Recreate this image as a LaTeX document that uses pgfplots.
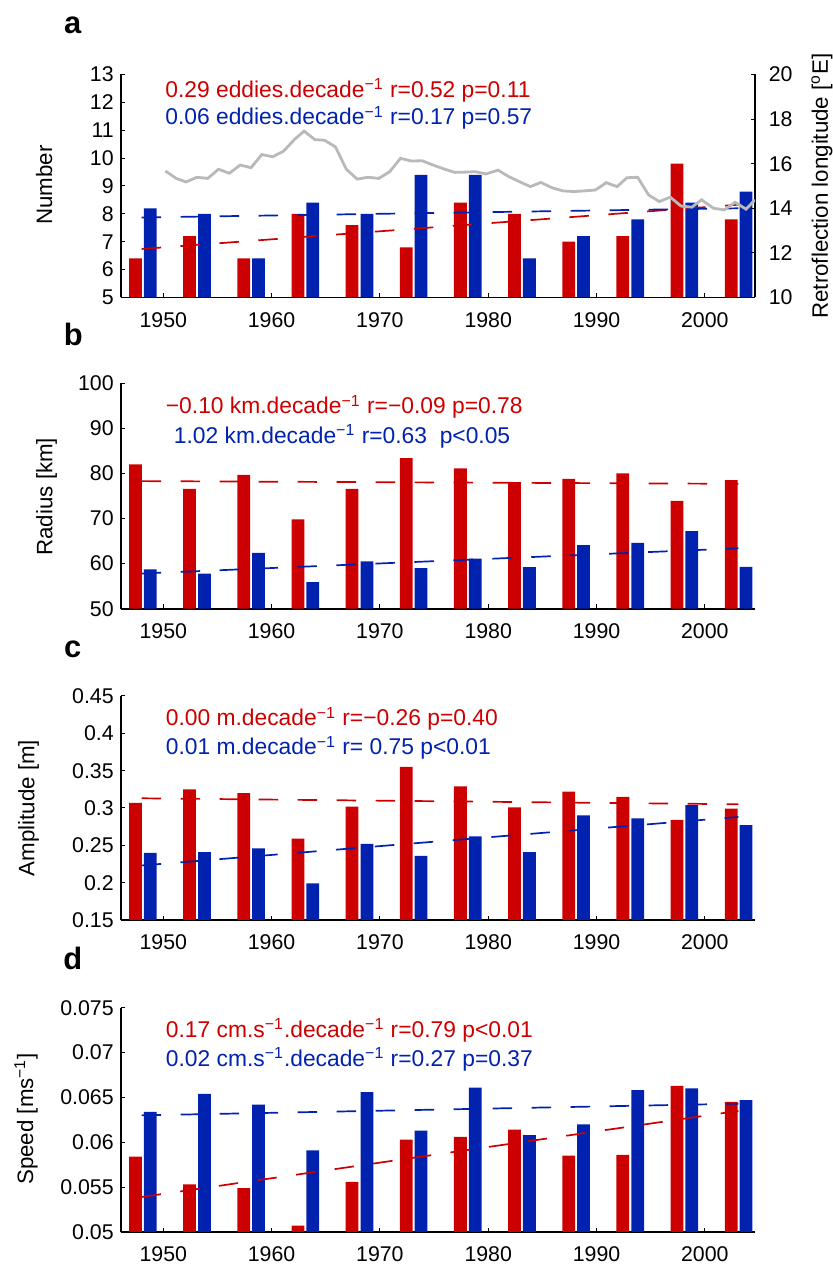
\documentclass[border=0pt]{standalone}
\usepackage{pgfplots}
\pgfplotsset{compat=1.18}
\usepackage{fontspec}
\setmainfont{Liberation Sans}
\definecolor{cred}{RGB}{204,0,0}
\definecolor{cblue}{RGB}{0,34,175}
\definecolor{cgray}{RGB}{185,185,185}
\newcommand{\sups}[1]{\textsuperscript{#1}}
\newcommand{\ann}{\fontsize{11.2}{13}\selectfont}
\newcommand{\annt}{\fontsize{11.45}{13}\selectfont}
\pgfplotsset{
 panel/.style={
  scale only axis, width=317.15bp,
  xmin=1946.07, xmax=2004.63,
  axis x line*=bottom, axis y line*=left,
  axis line style={-, line width=0.9bp, black},
  tick align=inside, major tick length=2.2bp,
  tick style={line width=0.5bp, black},
  xtick={1950,1960,1970,1980,1990,2000},
  xticklabels={1950,1960,1970,1980,1990,2000},
  tick label style={font=\fontsize{10.7}{12}\selectfont},
  xticklabel style={yshift=-4bp},
  scaled y ticks=false,
  anchor=south west,
 },
 rbar/.style={ybar, bar width=1.18, bar shift=0pt, fill=cred, draw=none},
 bbar/.style={ybar, bar width=1.18, bar shift=0pt, fill=cblue, draw=none},
 rtrend/.style={cred, line width=0.85bp, dash pattern=on 9.75bp off 9.75bp},
 btrend/.style={cblue, line width=0.85bp, dash pattern=on 9.75bp off 9.75bp},
}
\begin{document}
\begin{tikzpicture}
\path[use as bounding box] (0,0) rectangle (416.5bp,632bp);

% ---------------- panel a ----------------
\begin{axis}[panel, at={(60.35bp,483.25bp)}, height=111.5bp,
  ymin=5, ymax=13, ytick={5,6,7,8,9,10,11,12,13},
  yticklabels={5,6,7,8,9,10,11,12,13}]
\addplot[rbar] coordinates {(1947.43,6.4) (1952.43,7.2) (1957.43,6.4) (1962.43,8.0) (1967.43,7.6) (1972.43,6.8) (1977.43,8.4) (1982.43,8.0) (1987.43,7.0) (1992.43,7.2) (1997.43,9.8) (2002.43,7.8)};
\addplot[bbar] coordinates {(1948.8,8.2) (1953.8,8.0) (1958.8,6.4) (1963.8,8.4) (1968.8,8.0) (1973.8,9.4) (1978.8,9.4) (1983.8,6.4) (1988.8,7.2) (1993.8,7.8) (1998.8,8.4) (2003.8,8.8)};
\addplot[rtrend] coordinates {(1948.0,6.74) (2003.1,8.33)};
\addplot[btrend] coordinates {(1948.0,7.87) (2003.1,8.20)};
\end{axis}
\begin{axis}[scale only axis, width=317.15bp, height=111.5bp, at={(60.35bp,483.25bp)}, anchor=south west,
  xmin=1946.07, xmax=2004.63, ymin=10, ymax=20,
  axis x line=none, axis y line*=right,
  axis line style={-, line width=0.9bp, black},
  tick align=inside, major tick length=2.2bp,
  tick style={line width=0.5bp, black},
  ytick={10,12,14,16,18,20}, yticklabels={10,12,14,16,18,20},
  tick label style={font=\fontsize{10.7}{12}\selectfont},
  yticklabel style={xshift=3.4bp}]
\addplot[cgray, line width=1.4bp] coordinates {
(1950.2,15.67) (1951.2,15.34) (1952.1,15.18) (1953.1,15.39) (1954.1,15.34)
(1955.1,15.75) (1956.1,15.57) (1957.1,15.94) (1958.1,15.82) (1959.1,16.41)
(1960.1,16.31) (1961.1,16.56) (1962.1,17.08) (1963.0,17.46) (1964.0,17.08)
(1964.9,17.05) (1965.9,16.75) (1966.9,15.75) (1967.9,15.31) (1968.9,15.39)
(1969.9,15.34) (1970.9,15.64) (1971.9,16.24) (1972.9,16.12) (1973.9,16.13)
(1974.9,15.94) (1976.0,15.75) (1976.9,15.61) (1977.8,15.62) (1978.8,15.64)
(1979.8,15.54) (1980.9,15.71) (1981.9,15.42) (1982.9,15.19) (1983.9,14.97)
(1984.85,15.16) (1985.9,14.92) (1986.9,14.78) (1987.9,14.75) (1988.9,14.78)
(1989.9,14.82) (1990.9,15.15) (1991.9,14.97) (1992.8,15.37) (1993.8,15.39)
(1994.8,14.6) (1995.8,14.3) (1996.8,14.5) (1997.8,14.1) (1998.8,14.05)
(1999.7,14.38) (2000.8,14.0) (2001.8,13.93) (2002.8,14.27) (2003.8,13.96)
(2004.63,14.38)};
\end{axis}

% ---------------- panel b ----------------
\begin{axis}[panel, at={(60.35bp,327.65bp)}, height=112.7bp,
  ymin=50, ymax=100, ytick={50,60,70,80,90,100},
  yticklabels={50,60,70,80,90,100}]
\addplot[rbar] coordinates {(1947.43,82.0) (1952.43,76.6) (1957.43,79.7) (1962.43,69.8) (1967.43,76.6) (1972.43,83.4) (1977.43,81.1) (1982.43,78.1) (1987.43,78.8) (1992.43,80.0) (1997.43,73.9) (2002.43,78.5)};
\addplot[bbar] coordinates {(1948.8,58.7) (1953.8,57.8) (1958.8,62.4) (1963.8,55.9) (1968.8,60.5) (1973.8,59.0) (1978.8,61.1) (1983.8,59.2) (1988.8,64.1) (1993.8,64.6) (1998.8,67.2) (2003.8,59.3)};
\addplot[rtrend] coordinates {(1948.0,78.3) (2003.1,77.7)};
\addplot[btrend] coordinates {(1948.0,57.8) (2003.1,63.4)};
\end{axis}

% ---------------- panel c ----------------
\begin{axis}[panel, at={(60.35bp,172bp)}, height=112bp,
  ymin=0.15, ymax=0.45, ytick={0.15,0.2,0.25,0.3,0.35,0.4,0.45},
  yticklabels={0.15,0.2,0.25,0.3,0.35,0.4,0.45}]
\addplot[rbar] coordinates {(1947.43,0.307) (1952.43,0.325) (1957.43,0.320) (1962.43,0.259) (1967.43,0.302) (1972.43,0.355) (1977.43,0.329) (1982.43,0.301) (1987.43,0.322) (1992.43,0.315) (1997.43,0.284) (2002.43,0.299)};
\addplot[bbar] coordinates {(1948.8,0.240) (1953.8,0.241) (1958.8,0.246) (1963.8,0.199) (1968.8,0.252) (1973.8,0.236) (1978.8,0.262) (1983.8,0.241) (1988.8,0.290) (1993.8,0.286) (1998.8,0.304) (2003.8,0.277)};
\addplot[rtrend] coordinates {(1948.0,0.313) (2003.1,0.305)};
\addplot[btrend] coordinates {(1948.0,0.223) (2003.1,0.288)};
\end{axis}

% ---------------- panel d ----------------
\begin{axis}[panel, at={(60.35bp,16bp)}, height=112.15bp,
  ymin=0.05, ymax=0.075, ytick={0.05,0.055,0.06,0.065,0.07,0.075},
  yticklabels={0.05,0.055,0.06,0.065,0.07,0.075}]
\addplot[rbar] coordinates {(1947.43,0.0584) (1952.43,0.0553) (1957.43,0.0549) (1962.43,0.0507) (1967.43,0.0556) (1972.43,0.0603) (1977.43,0.0606) (1982.43,0.0614) (1987.43,0.0585) (1992.43,0.0586) (1997.43,0.0663) (2002.43,0.0645)};
\addplot[bbar] coordinates {(1948.8,0.0634) (1953.8,0.0654) (1958.8,0.0642) (1963.8,0.0591) (1968.8,0.0656) (1973.8,0.0613) (1978.8,0.0661) (1983.8,0.0608) (1988.8,0.0620) (1993.8,0.0658) (1998.8,0.0660) (2003.8,0.0647)};
\addplot[rtrend] coordinates {(1948.0,0.0539) (2003.1,0.0635)};
\addplot[btrend] coordinates {(1948.0,0.0630) (2003.1,0.0643)};
\end{axis}

% ---------------- texts ----------------
\begin{scope}[every node/.style={inner sep=0pt}]
\node[font=\fontsize{15.5}{17}\selectfont\bfseries] at (36.4bp,619.25bp) {a};
\node[font=\fontsize{15.5}{17}\selectfont\bfseries] at (36.6bp,464.9bp) {b};
\node[font=\fontsize{15.5}{17}\selectfont\bfseries] at (36.4bp,307.5bp) {c};
\node[font=\fontsize{15.5}{17}\selectfont\bfseries] at (36.4bp,153bp) {d};

\node[anchor=base west, text=cred, font=\annt] at (82.5bp,583.15bp) {0.29 eddies.decade\sups{−1} r=0.52 p=0.11};
\node[anchor=base west, text=cblue, font=\annt] at (82.5bp,569.5bp) {0.06 eddies.decade\sups{−1} r=0.17 p=0.57};
\node[anchor=base west, text=cred, font=\annt] at (82.75bp,425bp) {−0.10 km.decade\sups{−1} r=−0.09 p=0.78};
\node[anchor=base west, text=cblue, font=\annt] at (86.75bp,410.35bp) {1.02 km.decade\sups{−1} r=0.63\ \ p<0.05};
\node[anchor=base west, text=cred, font=\annt] at (82.75bp,269bp) {0.00 m.decade\sups{−1} r=−0.26 p=0.40};
\node[anchor=base west, text=cblue, font=\annt] at (82.75bp,254.5bp) {0.01 m.decade\sups{−1} r= 0.75 p<0.01};
\node[anchor=base west, text=cred, font=\annt] at (82.75bp,113.35bp) {0.17 cm.s\sups{−1}.decade\sups{−1} r=0.79 p<0.01};
\node[anchor=base west, text=cblue, font=\annt] at (82.75bp,98.65bp) {0.02 cm.s\sups{−1}.decade\sups{−1} r=0.27 p=0.37};

\node[rotate=90, font=\ann] at (22.1bp,539.5bp) {Number};
\node[rotate=90, font=\ann] at (23.35bp,383.65bp) {Radius [km]};
\node[rotate=90, font=\ann] at (14.25bp,228bp) {Amplitude [m]};
\node[rotate=90, font=\ann] at (13bp,72.5bp) {Speed [ms\sups{−1}]};
\node[rotate=90, font=\ann] at (411bp,539bp) {Retroflection longitude [\sups{o}E]};
\end{scope}
\end{tikzpicture}
\end{document}
